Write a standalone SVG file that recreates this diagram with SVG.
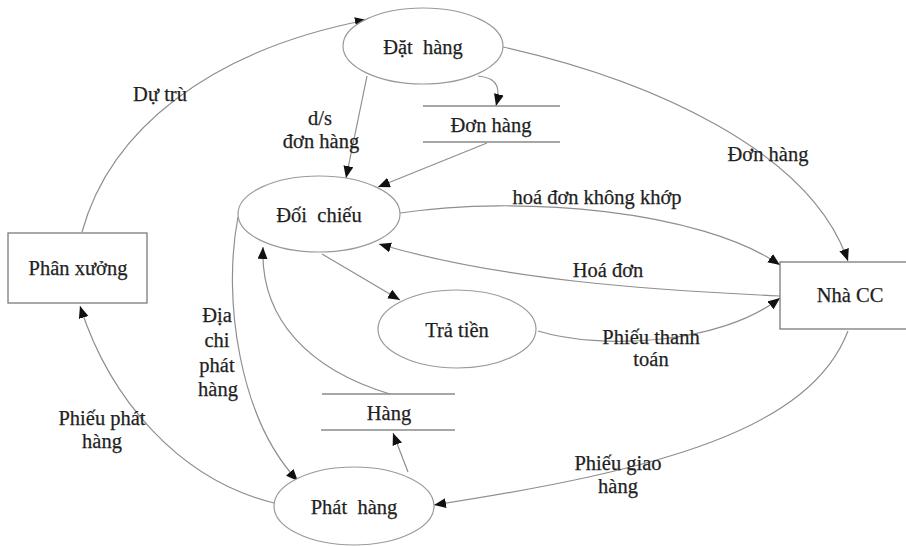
<svg xmlns="http://www.w3.org/2000/svg" width="906" height="546" viewBox="0 0 906 546">
<defs>
<marker id="ah" markerUnits="userSpaceOnUse" markerWidth="13" markerHeight="11" refX="12" refY="5" orient="auto">
<path d="M0,0 L12,5 L0,10 z" fill="#111"/>
</marker>
<style>
text{font-family:"Liberation Serif","Times New Roman",serif;font-size:20.5px;fill:#1f1f1f;stroke:#1f1f1f;stroke-width:0.25;text-anchor:middle}
.proc{fill:#fff;stroke:#9a9a9a;stroke-width:1.2}
.ent{fill:#fff;stroke:#7a7a7a;stroke-width:1.3}
.store line{stroke:#8a8a8a;stroke-width:1.4}
.conn path{fill:none;stroke:#8f8f8f;stroke-width:1.2;marker-end:url(#ah)}
</style>
</defs>
<rect width="906" height="546" fill="#fff"/>
<g class="conn" id="connectors">
<path d="M82,232 C110,130 210,50 367,20"/>
<path d="M367,76 L346,178"/>
<path d="M478,76 C500,78 500,90 496,106"/>
<path d="M487,143 L378,187"/>
<path d="M503,47 C650,80 810,150 848,261"/>
<path d="M400,213 C520,195 700,210 780,265"/>
<path d="M780,296 C650,290 500,280 379,244"/>
<path d="M322,254 L400,300"/>
<path d="M538,331 C600,350 720,345 780,298"/>
<path d="M390,394 C310,370 260,320 263,247"/>
<path d="M238,217 C222,300 240,420 298,481"/>
<path d="M274,503 C180,480 110,400 80,306"/>
<path d="M408,472 L393,433"/>
<path d="M848,331 C810,430 660,470 434,505"/>
</g>
<g id="labels">
<text x="160" y="101">Dự trù</text>
<text x="320" y="125">d/s</text>
<text x="321" y="148">đơn hàng</text>
<text x="768" y="161">Đơn hàng</text>
<text x="597" y="204">hoá đơn không khớp</text>
<text x="608" y="277">Hoá đơn</text>
<text x="651" y="344">Phiếu thanh</text>
<text x="651" y="366">toán</text>
<text x="217" y="322">Địa</text>
<text x="217" y="347">chi</text>
<text x="217" y="372">phát</text>
<text x="218" y="396">hàng</text>
<text x="102" y="425">Phiếu phát</text>
<text x="102" y="448">hàng</text>
<text x="618" y="470">Phiếu giao</text>
<text x="618" y="493">hàng</text>
</g>
<g id="phan-xuong"><rect class="ent" x="8" y="233" width="139" height="70"/><text x="78" y="275">Phân xưởng</text></g>
<g id="nha-cc"><rect class="ent" x="780" y="262" width="140" height="67"/><text x="850" y="302">Nhà CC</text></g>
<g id="dat-hang"><ellipse class="proc" cx="423" cy="46" rx="80" ry="38"/><text x="423" y="54" xml:space="preserve">Đặt  hàng</text></g>
<g id="doi-chieu"><ellipse class="proc" cx="319" cy="214" rx="81" ry="38"/><text x="319" y="222" xml:space="preserve">Đối  chiếu</text></g>
<g id="tra-tien"><ellipse class="proc" cx="457" cy="329" rx="79" ry="39"/><text x="457" y="337">Trả tiền</text></g>
<g id="phat-hang"><ellipse class="proc" cx="354" cy="506" rx="80" ry="39"/><text x="354" y="514" xml:space="preserve">Phát  hàng</text></g>
<g id="store-don-hang" class="store"><line x1="423" y1="106" x2="560" y2="106"/><line x1="423" y1="142" x2="560" y2="142"/><text x="491" y="132">Đơn hàng</text></g>
<g id="store-hang" class="store"><line x1="322" y1="394" x2="455" y2="394"/><line x1="321" y1="430" x2="455" y2="430"/><text x="389" y="420">Hàng</text></g>
</svg>
